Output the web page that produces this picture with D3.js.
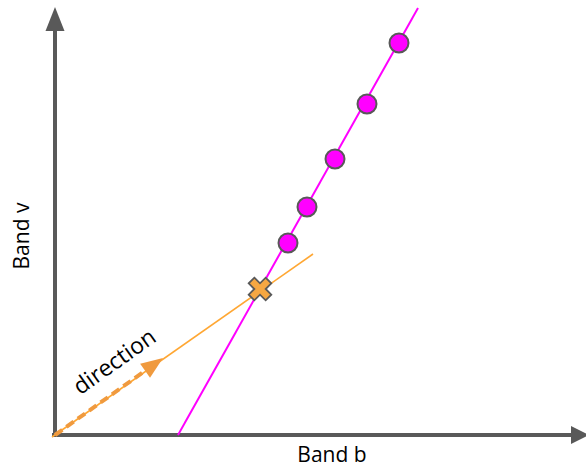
<!DOCTYPE html>
<html><head><meta charset="utf-8">
<script src="https://cdn.jsdelivr.net/npm/d3@7"></script>
<style>body{margin:0;background:#fff}svg{display:block}text{font-family:"Open Sans",Lato,sans-serif;fill:#000}</style>
</head><body>
<script>
// data (units along Band b / Band v)
const pointsB = [233, 252, 280, 312, 344];
const pointsV = [192, 228, 276, 331, 392];
const lineB = [123, 363];
const lineV = [0, 427];
const dirLineB = [-3, 258];
const dirLineV = [-2, 181];
const crossB = [205];
const crossV = [146];
const arrowB = [0, 108];
const arrowV = [0, 77];
const axisLabels = ["Band b", "Band v"];
const dirLabel = "direction";

const W = 586, H = 467;
const svg = d3.select("body").append("svg").attr("width", W).attr("height", H);
const x = d3.scaleLinear().domain([0, 530]).range([55, 585]);
const y = d3.scaleLinear().domain([0, 430]).range([435, 5]);

const axisCol = "#595959";
// axes
svg.append("line").attr("x1", x(-3)).attr("y1", y(0)).attr("x2", x(516)).attr("y2", y(0))
  .attr("stroke", axisCol).attr("stroke-width", 4);
svg.append("path").attr("d", `M${x(516)},${y(0)-9}L${x(534)},${y(0)}L${x(516)},${y(0)+9}Z`).attr("fill", axisCol);
svg.append("line").attr("x1", x(0)).attr("y1", y(-2)).attr("x2", x(0)).attr("y2", y(404))
  .attr("stroke", axisCol).attr("stroke-width", 4);
svg.append("path").attr("d", `M${x(0)-9.5},${y(404)}L${x(0)},${y(428)}L${x(0)+9.5},${y(404)}Z`).attr("fill", axisCol);

// magenta line
svg.append("line").attr("x1", x(lineB[0])).attr("y1", y(lineV[0])).attr("x2", x(lineB[1])).attr("y2", y(lineV[1]))
  .attr("stroke", "#ff00ff").attr("stroke-width", 2);

// orange line
svg.append("line").attr("x1", x(dirLineB[0])).attr("y1", y(dirLineV[0])).attr("x2", x(dirLineB[1])).attr("y2", y(dirLineV[1]))
  .attr("stroke", "#ffa733").attr("stroke-width", 1.6);

// dashed arrow
const ax0 = x(arrowB[0]), ay0 = y(arrowV[0]), ax1 = x(arrowB[1]), ay1 = y(arrowV[1]);
const ang = Math.atan2(ay1 - ay0, ax1 - ax0);
const hl = 22, hw = 8.5;
const bx = ax1 - hl * Math.cos(ang), by = ay1 - hl * Math.sin(ang);
svg.append("line").attr("x1", ax0).attr("y1", ay0).attr("x2", bx).attr("y2", by)
  .attr("stroke", "#f09a3e").attr("stroke-width", 4).attr("stroke-dasharray", "9,5");
svg.append("path").attr("d",
  `M${ax1},${ay1}L${bx + hw*Math.sin(ang)},${by - hw*Math.cos(ang)}L${bx - hw*Math.sin(ang)},${by + hw*Math.cos(ang)}Z`)
  .attr("fill", "#f09a3e");

// direction label
svg.append("text").attr("transform", `translate(${x(64)},${y(67)}) rotate(${ang*180/Math.PI})`)
  .attr("text-anchor", "middle").attr("font-size", 23).text(dirLabel);

// points
svg.selectAll("circle.p").data(pointsB.map((b, i) => [b, pointsV[i]])).join("circle")
  .attr("class", "p").attr("cx", d => x(d[0])).attr("cy", d => y(d[1])).attr("r", 9.5)
  .attr("fill", "#ff00ff").attr("stroke", axisCol).attr("stroke-width", 2);

// cross
svg.selectAll("path.c").data(crossB.map((b, i) => [b, crossV[i]])).join("path")
  .attr("class", "c").attr("transform", d => `translate(${x(d[0])},${y(d[1])}) rotate(45)`)
  .attr("d", d3.symbol(d3.symbolCross, 320)())
  .attr("fill", "#f5a742").attr("stroke", axisCol).attr("stroke-width", 1.8);

// axis labels
svg.append("text").attr("x", 332).attr("y", 462).attr("text-anchor", "middle").attr("font-size", 21).text(axisLabels[0]);
svg.append("text").attr("transform", "translate(29,236) rotate(-90)").attr("text-anchor", "middle").attr("font-size", 21).text(axisLabels[1]);
</script>
</body></html>
